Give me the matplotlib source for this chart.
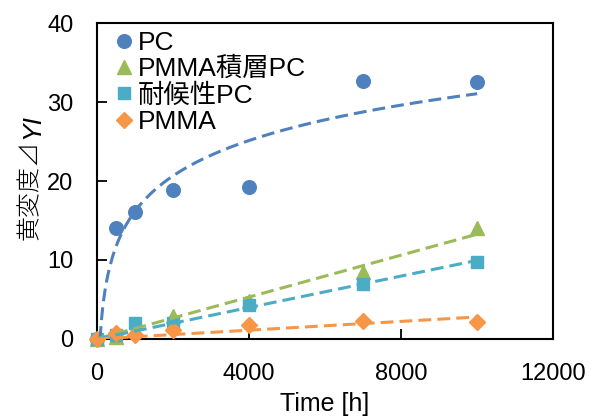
import numpy as np
import matplotlib
matplotlib.use("Agg")
import matplotlib.pyplot as plt

plt.rcParams['font.family'] = ['Liberation Sans', 'Noto Sans CJK JP', 'DejaVu Sans']

time_h = [0, 500, 1000, 2000, 4000, 7000, 10000]
pc = [0, 14.0, 16.1, 18.9, 19.2, 32.7, 32.5]
pmma_lam = [0, 0.3, 1.2, 2.9, 4.8, 8.5, 14.0]
weather_pc = [0, 0.5, 2.0, 2.0, 4.3, 7.0, 9.7]
pmma = [0, 0.7, 0.5, 1.1, 1.8, 2.3, 2.1]

labels = ['PC', 'PMMA積層PC', '耐候性PC', 'PMMA']
colors = ['#4F81BD', '#9BBB59', '#4BACC6', '#F79646']
markers = ['o', '^', 's', 'D']
sizes = [9.8, 10, 8.5, 8.5]

fig = plt.figure(figsize=(5.91, 4.19), dpi=100)
ax = fig.add_axes([0.164, 0.191, 0.772, 0.754])

x = np.array(time_h, dtype=float)
series = [pc, pmma_lam, weather_pc, pmma]
for ys, lab, c, m, s in zip(series, labels, colors, markers, sizes):
    ax.plot(x, ys, linestyle='none', marker=m, color=c, markersize=s,
            label=lab, clip_on=False, zorder=3)

LW = 2.2
DASH = (4.2, 2.0)
# trendlines
# PC: logarithmic fit
xp = x[1:]
yp = np.array(pc[1:])
a, b = np.polyfit(np.log(xp), yp, 1)
x0 = np.exp(-b / a)
xx = np.linspace(x0, 10000, 300)
ax.plot(xx, a * np.log(xx) + b, color=colors[0], lw=LW, dashes=DASH, zorder=4)

# others: linear through origin
for ys, c in zip(series[1:], colors[1:]):
    ya = np.array(ys, dtype=float)
    k = np.sum(x * ya) / np.sum(x * x)
    xx = np.array([0, 10000.0])
    ax.plot(xx, k * xx, color=c, lw=LW, dashes=DASH, zorder=4)

ax.set_xlim(0, 12000)
ax.set_ylim(0, 40)
ax.set_xticks([0, 4000, 8000, 12000])
ax.set_yticks([0, 10, 20, 30, 40])
ax.tick_params(direction='in', length=7, width=1.3, labelsize=17, pad=17)
for sp in ax.spines.values():
    sp.set_linewidth(1.5)

ax.set_xlabel('Time [h]', fontsize=18, labelpad=5)

# y label: CJK part + italic YI
fig.canvas.draw()
r = fig.canvas.get_renderer()
t1 = fig.text(30 / 591, 1 - 240 / 419, '黄変度⊿', rotation=90, ha='center', va='bottom',
              fontsize=18, family=['Noto Sans CJK JP', 'DejaVu Sans'], fontweight='light')
bb = t1.get_window_extent(renderer=r)
t2 = fig.text(32 / 591, (bb.y1 + 1) / fig.bbox.height, 'YI', rotation=90, ha='center',
              va='bottom', fontsize=19, style='italic', family='Liberation Sans')

ax.legend(loc='upper left', fontsize=19, frameon=False, handlelength=0.7,
          handletextpad=0.15, labelspacing=0.08, borderaxespad=0.0,
          borderpad=0.2, bbox_to_anchor=(0.028, 0.992))

fig.savefig('out.png', dpi=100)
